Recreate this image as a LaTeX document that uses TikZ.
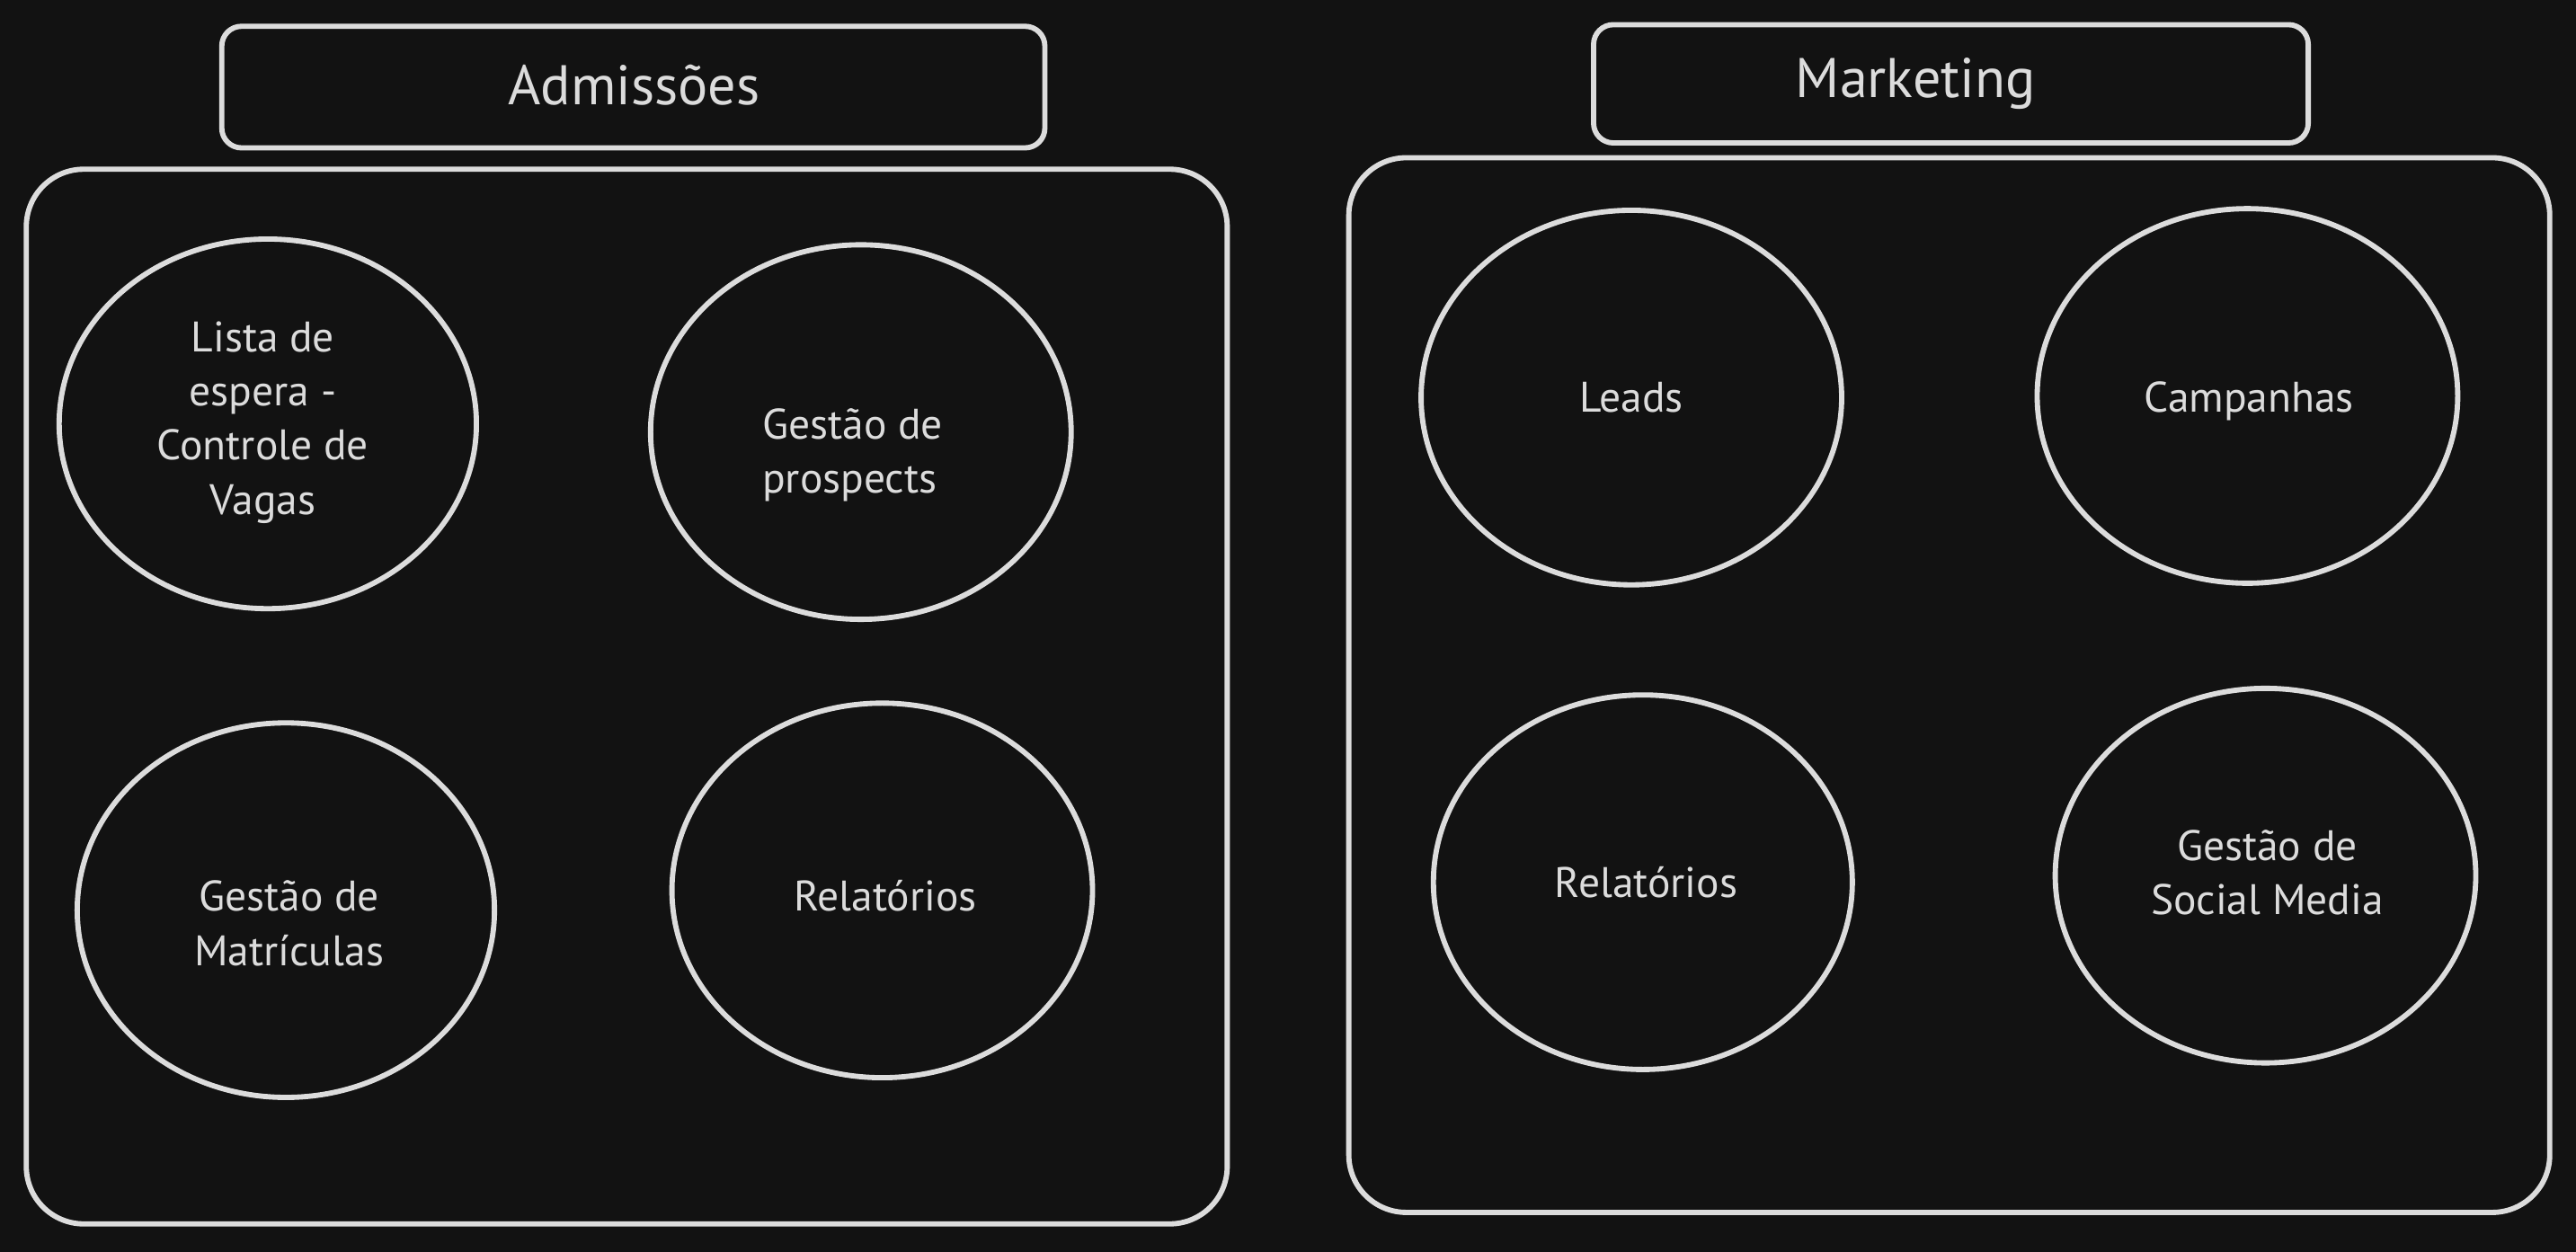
\documentclass[tikz,border=0pt]{standalone}
\usepackage{fontspec}
\setmainfont{PT Sans}
\usetikzlibrary{shapes.geometric}
\definecolor{bg}{HTML}{121212}
\definecolor{ink}{HTML}{DCDCDC}
\tikzset{
  sk/.style={draw=ink, line width=1.6pt, line cap=round, line join=round},
  bubble/.style={sk, ellipse, inner sep=0pt, minimum width=128pt, minimum height=114pt},
  txt/.style={text=ink, align=center, inner sep=0pt, font=\fontsize{13}{16.5}\selectfont},
  ttl/.style={text=ink, inner sep=0pt, font=\fontsize{17}{20}\selectfont},
  titlebox/.style={sk, rounded corners=6pt, inner sep=0pt},
  groupbox/.style={sk, rounded corners=17.5pt, inner sep=0pt, minimum width=365.5pt, minimum height=321pt}
}
\begin{document}
\begin{tikzpicture}[x=0.5pt,y=-0.5pt]
\fill[bg] (0,0) rectangle (1568,762);
\useasboundingbox (0,0) rectangle (1568,762);
% group boxes
\node[groupbox] (gA) at (381.5,424) {};
\node[groupbox] (gM) at (1186.5,417) {};
% titles
\node[titlebox, minimum width=250.5pt, minimum height=37pt] (tA) at (385.5,53) {};
\node[ttl] (tAt) at (386,52) {Admissões};
\node[titlebox, minimum width=217.5pt, minimum height=36pt] (tM) at (1187.5,51) {};
\node[ttl] (tMt) at (1166,51) {Marketing};
% Admissões bubbles
\node[bubble, minimum width=127pt, minimum height=112.5pt] (lista) at (163,258) {};
\node[txt] (listat) at (160,257) {Lista de\\espera -\\Controle de\\Vagas};
\node[bubble] (prosp) at (524,263) {};
\node[txt, align=left] (prospt) at (519,277) {Gestão de\\prospects};
\node[bubble, minimum width=127pt] (matr) at (174,554) {};
\node[txt] (matrt) at (176,562) {Gestão de\\Matrículas};
\node[bubble] (relA) at (537,542) {};
\node[txt] (relAt) at (539,545) {Relatórios};
% Marketing bubbles
\node[bubble] (leads) at (993,242) {};
\node[txt] (leadst) at (993,242) {Leads};
\node[bubble] (camp) at (1368,241) {};
\node[txt] (campt) at (1369,244) {Campanhas};
\node[bubble, minimum width=127.5pt] (relM) at (1000,537) {};
\node[txt] (relMt) at (1002,537) {Relatórios};
\node[bubble] (social) at (1379,533) {};
\node[txt] (socialt) at (1380,531) {Gestão de\\Social Media};
\end{tikzpicture}
\end{document}
